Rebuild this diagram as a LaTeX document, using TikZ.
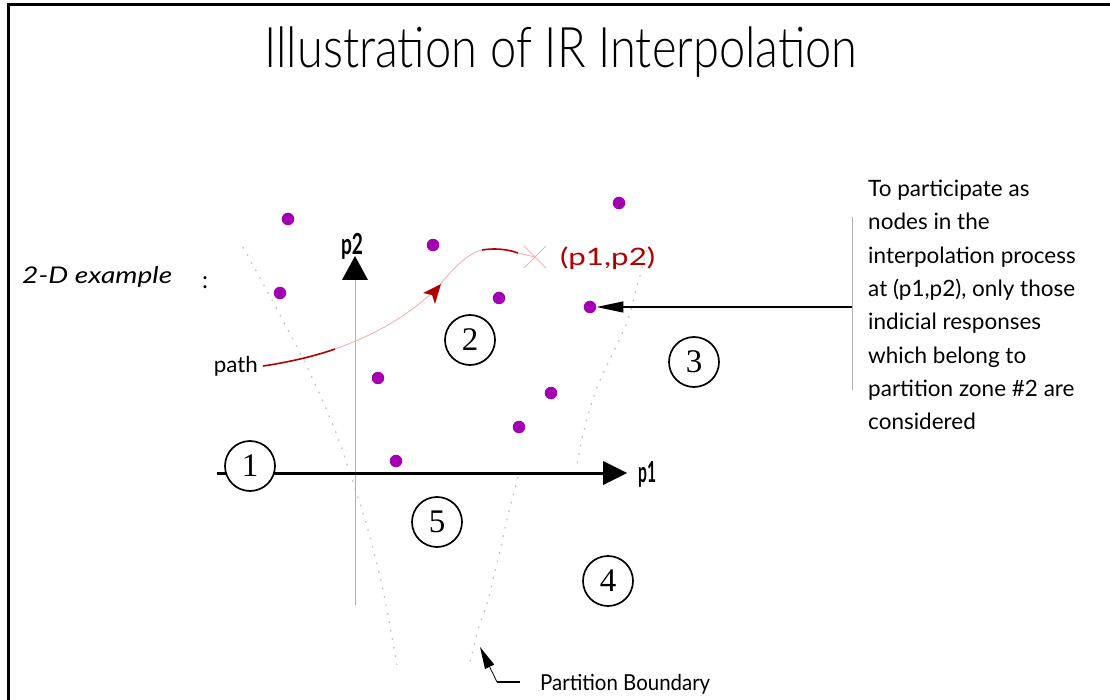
\documentclass[tikz,border=0pt]{standalone}
\usepackage{graphicx}
\usepackage{fontspec}
\setmainfont{Lato}
\newfontfamily\titlefont{Lato Light}
\newfontfamily\notefont{Lato}
\newfontfamily\numfont{Liberation Serif}
\usetikzlibrary{arrows.meta,calc}
\definecolor{dotpurple}{HTML}{A300B3}
\definecolor{pathred}{HTML}{B00000}
\definecolor{pathpink}{HTML}{F0B4B4}
\definecolor{axisgrey}{HTML}{B0B0B0}
\definecolor{bndgrey}{HTML}{BEBEBE}
% set a text at a given width, keeping its natural height
\newcommand\fitw[3]{\resizebox{#1}{\height}{\fontsize{#2}{#2}\selectfont #3}}
\begin{document}
\begin{tikzpicture}[x=1pt,y=-1pt,
  zone/.style={circle, draw, line width=1.7pt, fill=white, minimum size=50pt,
    inner sep=0pt, font=\numfont\fontsize{33}{33}\selectfont},
  resp/.style={circle, fill=dotpurple, minimum size=12.5pt, inner sep=0pt},
  boundary/.style={bndgrey, line width=1.2pt, dash pattern=on 1.6pt off 7pt},
  pathdark/.style={pathred, line width=1.6pt},
  pathlight/.style={pathpink, line width=0.9pt},
  lbl/.style={inner sep=0pt}]
\useasboundingbox (0,0) rectangle (1110,700);
\fill[white] (0,0) rectangle (1110,700);

% frame
\draw[line width=3pt] (8,700) -- (8,5) -- (1110,5);

% title
\node[lbl, anchor=base] (title) at (561,68)
  {\fitw{593pt}{56}{\titlefont Illustration of IR Interpolation}};

% 2-D example label
\node[lbl, anchor=base west] (example) at (22,284)
  {\fitw{150pt}{23}{\itshape 2-D example}};
\node[lbl, anchor=base] (colon) at (205,289) {\fontsize{24}{24}\selectfont :};

% partition boundaries
\draw[boundary] plot[smooth] coordinates {(243,247) (280,315) (310,373) (335,430) (350,473) (368,530) (383,590) (397,665)};
\draw[boundary] plot[smooth] coordinates {(647,250) (636,290) (626,325) (598,385) (584,430) (576,470)};
\draw[boundary] plot[smooth] coordinates {(518,477) (508,515) (500,550) (488,600) (478,630) (470,662)};

% p2 axis
\coordinate (p2base) at (355,605);
\coordinate (p2tip) at (355,256);
\draw[axisgrey, line width=1pt] (p2base) -- (355,280);
\fill (p2tip) -- (342,280) -- (368,280) -- cycle;
\node[lbl, anchor=base] (p2lbl) at (352,255) {\fitw{22pt}{29}{\bfseries p2}};

% p1 axis
\coordinate (p1base) at (217,473);
\coordinate (p1tip) at (627,473);
\draw[line width=3pt] (p1base) -- (605,473);
\fill (p1tip) -- (603,461) -- (603,485) -- cycle;
\node[lbl, anchor=base west] (p1lbl) at (638,482) {\fitw{18pt}{29}{\bfseries p1}};

% partition zones
\node[zone] (z1) at (250,466) {1};
\node[zone] (z2) at (470,340) {2};
\node[zone] (z3) at (694,362) {3};
\node[zone] (z4) at (608,581) {4};
\node[zone] (z5) at (437,522) {5};

% indicial responses
\node[resp] (r1) at (288,219) {};
\node[resp] (r2) at (433,245) {};
\node[resp] (r3) at (280,293) {};
\node[resp] (r4) at (499,298) {};
\node[resp] (r5) at (590,307) {};
\node[resp] (r6) at (378,378) {};
\node[resp] (r7) at (551,393) {};
\node[resp] (r8) at (519,427) {};
\node[resp] (r9) at (396,461) {};
\node[resp] (r10) at (619,203) {};

% path through the parameter space
\node[lbl, anchor=base east] (pathlbl) at (258,372) {\fitw{44pt}{22}{path}};
\coordinate (c0) at (263,366);
\coordinate (c1) at (335,349);
\coordinate (c2) at (438,287);
\coordinate (c3) at (482,250);
\coordinate (c4) at (518,253);
\coordinate (pt) at (535,257);
\draw[pathdark] (c0) .. controls (290,362) and (315,356) .. (c1);
\draw[pathlight] (c1) .. controls (375,335) and (410,315) .. (c2);
\draw[pathlight] (c2) .. controls (452,270) and (466,254) .. (c3);
\fill[pathred] (441,284) -- (423,293) -- (432,295) -- (435,304) -- cycle;
\draw[pathdark] (c3) .. controls (494,248) and (507,249) .. (c4);
\draw[pathlight] (c4) -- (pt);
\draw[pathlight] ($(pt)+(-11,-11)$) -- ($(pt)+(11,11)$);
\draw[pathlight] ($(pt)+(-11,11)$) -- ($(pt)+(11,-11)$);
\node[lbl, anchor=base west, text=pathred] (ptlbl) at (560,266) {\fitw{95pt}{24}{(p1,p2)}};

% annotation
\draw[axisgrey, line width=1pt] (852,217) -- (852,390);
\coordinate (bracket) at (852,307);
\draw[line width=1.4pt, -{Triangle[length=27pt, width=11pt]}] (bracket) -- (r5.east);
\node[lbl, anchor=north west, align=left,
  font=\notefont\fontsize{22.5}{33.3}\selectfont] (note) at (868,180)
  {To participate as\\nodes in the\\interpolation process\\at (p1,p2), only those\\indicial responses\\which belong to\\partition zone \#2 are\\considered};

% partition boundary callout
\coordinate (pbtip) at (480,647);
\coordinate (pbtail) at (497,682);
\draw[line width=0.8pt, -{Triangle[length=22pt, width=10pt]}] (pbtail) -- (pbtip);
\draw[line width=1.4pt] (pbtail) -- (520,682);
\node[lbl, anchor=base west] (pblbl) at (540,690) {\fitw{170pt}{22}{Partition Boundary}};
\end{tikzpicture}
\end{document}
